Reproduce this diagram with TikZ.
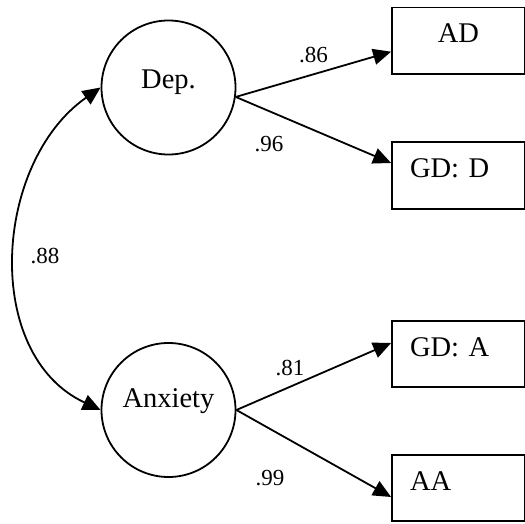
\documentclass[tikz,border=0pt]{standalone}
\usepackage{fontspec}
\setmainfont{Liberation Serif}
\usepackage{tikz}
\usetikzlibrary{arrows.meta,positioning}

\begin{document}
\begin{tikzpicture}[x=1pt,y=1pt,
  latent/.style={draw, circle, line width=1.8pt, minimum size=134pt, inner sep=0pt,
    font=\fontsize{28.5}{32}\selectfont, text height=0.7em, text depth=0.4em},
  observed/.style={draw, rectangle, line width=1.8pt, minimum width=133pt, minimum height=66.5pt,
    inner xsep=18pt, text width=97pt, align=left,
    font=\fontsize{28.5}{32}\selectfont, text height=0.7em, text depth=0.25em},
  path/.style={line width=1.8pt, -{Triangle[length=18pt,width=16pt]}},
  coef/.style={font=\fontsize{23}{26}\selectfont}]
\useasboundingbox (0,0) rectangle (525,523);

% latent factors
\node[latent] (dep) at (168.5,435.5) {Dep.};
\node[latent, text depth=1.2em] (anx) at (168.5,113) {Anxiety};

% indicators
\node[observed, align=center] (ad) at (458.5,482.3) {AD};
\node[observed] (gdd) at (458.5,347.5) {GD: D};
\node[observed] (gda) at (458.5,169) {GD: A};
\node[observed] (aa) at (458.5,35) {AA};

% loadings
\draw[path] (dep.-8) -- ([yshift=-11pt]ad.west);
\draw[path] (dep.-8) -- ([yshift=12.5pt]gdd.west);
\draw[path] (anx.east) -- ([yshift=11pt]gda.west);
\draw[path] (anx.east) -- ([yshift=-9pt]aa.west);

% correlation
\draw[line width=1.8pt, {Triangle[length=18pt,width=16pt]}-{Triangle[length=18pt,width=16pt]}]
  (dep.west) .. controls +(215:131) and +(155:131) .. (anx.west);

\node[coef] (l86) at (313.5,468) {.86};
\node[coef] (l96) at (269,379) {.96};
\node[coef] (l88) at (45,267) {.88};
\node[coef] (l81) at (290,155) {.81};
\node[coef] (l99) at (270,45) {.99};
\end{tikzpicture}
\end{document}
